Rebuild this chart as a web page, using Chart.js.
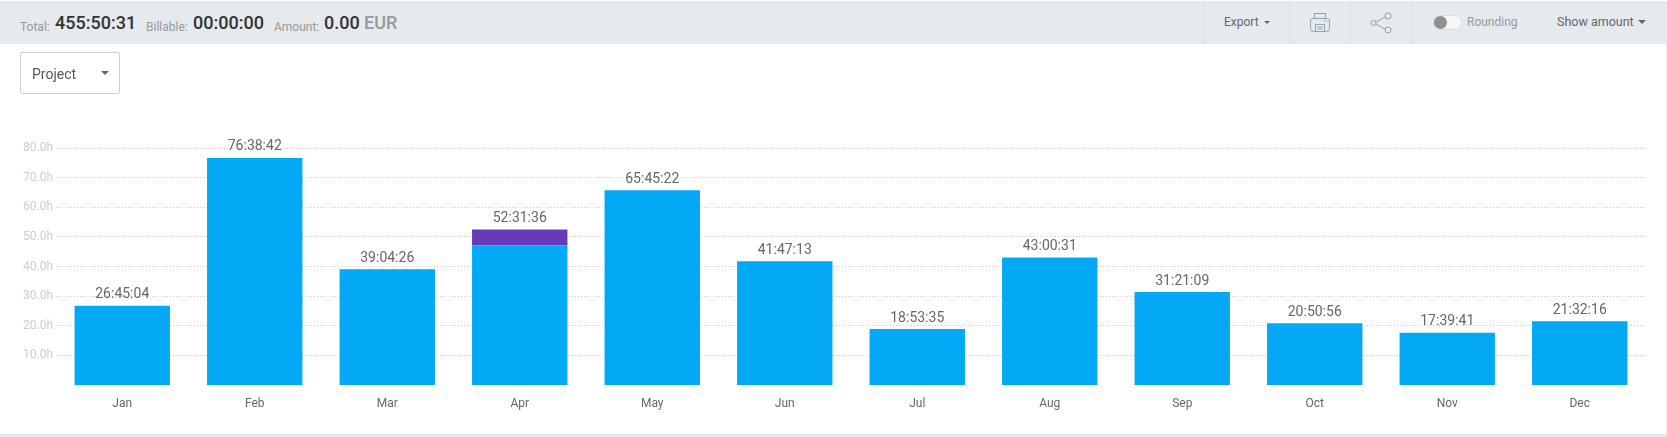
<!DOCTYPE html>
<html>
<head>
<meta charset="utf-8">
<script src="https://cdn.jsdelivr.net/npm/chart.js@4"></script>
<style>
    html, body { margin: 0; padding: 0; background: #fff; overflow: hidden; }
    body { width: 1667px; height: 437px; position: relative; font-family: Roboto, sans-serif; }
    .bar { position: absolute; left: 0; top: 1px; width: 1667px; height: 43px; background: #e4eaee; }
    .t { position: absolute; white-space: nowrap; line-height: 1; }
    .lbl { font-size: 12px; color: #999; top: 21px; }
    .num { font-size: 18px; font-weight: 500; color: #333; top: 14px; }
    .sep { position: absolute; top: 2px; height: 41px; border-left: 1px dotted #c6d2d9; }
    .caret { position: absolute; width: 0; height: 0; border-left: 3px solid transparent; border-right: 3px solid transparent; border-top: 3px solid #666; }
    .select { position: absolute; left: 20px; top: 52px; width: 98px; height: 40px; border: 1px solid #c6d2d9; border-radius: 2px; box-sizing: content-box; }
    .switch { position: absolute; left: 1433px; top: 15px; width: 27px; height: 13px; border: 1px solid #d5dde2; border-radius: 8px; background: #f5f7f8; }
    .knob { position: absolute; left: 1434px; top: 16px; width: 13px; height: 13px; border-radius: 50%; background: #8f8f8f; }
    .bottom { position: absolute; left: 0; top: 434px; width: 1667px; height: 3px; background: #e4eaee; }
    .edge { position: absolute; left: 1666px; top: 44px; width: 1px; height: 390px; background: #e4eaee; }
    #wrap { position: absolute; left: 0; top: 0; width: 1667px; height: 437px; }
</style>
</head>
<body>
<div id="wrap"><canvas id="chart" width="1667" height="437"></canvas></div>

<div class="bar"></div>
<span class="t lbl" style="left:20px">Total:</span>
<span class="t num" style="left:55px">455:50:31</span>
<span class="t lbl" style="left:146px">Billable:</span>
<span class="t num" style="left:193px">00:00:00</span>
<span class="t lbl" style="left:274px">Amount:</span>
<span class="t num" style="left:324px">0.00</span>
<span class="t num" style="left:364px;color:#999">EUR</span>

<div class="sep" style="left:1203px"></div>
<div class="sep" style="left:1289px"></div>
<div class="sep" style="left:1350px"></div>
<div class="sep" style="left:1411px"></div>
<span class="t" style="left:1224px;top:16px;font-size:12px;color:#666">Export</span>
<div class="caret" style="left:1264px;top:21px"></div>

<svg style="position:absolute;left:1309px;top:12px" width="22" height="22" viewBox="0 0 22 22" fill="none" stroke="#90a4ae" stroke-width="1">
    <rect x="1.5" y="6.5" width="19" height="13" rx="3"/>
    <rect x="5.5" y="1.5" width="11" height="5"/>
    <rect x="6.5" y="12.5" width="9" height="7" fill="#e4eaee"/>
    <path d="M8.5 15h5M8.5 17h5M15 9h1M17 9h1"/>
</svg>
<svg style="position:absolute;left:1370px;top:12px" width="22" height="22" viewBox="0 0 22 22" fill="none" stroke="#90a4ae" stroke-width="1">
    <circle cx="3.5" cy="11" r="2.5"/>
    <circle cx="18" cy="4" r="3"/>
    <circle cx="18" cy="18" r="3"/>
    <path d="M6 10l9-5M6 12l9 5"/>
</svg>

<div class="switch"></div>
<div class="knob"></div>
<span class="t" style="left:1467px;top:16px;font-size:12px;color:#999">Rounding</span>
<span class="t" style="left:1557px;top:16px;font-size:12.5px;color:#666">Show amount</span>
<div class="caret" style="left:1638px;top:20px;border-left-width:4px;border-right-width:4px;border-top-width:4px"></div>

<div class="select"></div>
<span class="t" style="left:32px;top:67px;font-size:14px;color:#555">Project</span>
<div class="caret" style="left:101px;top:71px;border-left-width:4px;border-right-width:4px;border-top-width:4px"></div>

<div class="edge"></div>
<div class="bottom"></div>

<script>
// Values in decimal hours
const months = ['Jan', 'Feb', 'Mar', 'Apr', 'May', 'Jun', 'Jul', 'Aug', 'Sep', 'Oct', 'Nov', 'Dec'];
const blueHours = [26.751, 76.645, 39.074, 47.2, 65.756, 41.787, 18.893, 43.009, 31.353, 20.849, 17.661, 21.538];
const purpleHours = [0, 0, 0, 5.327, 0, 0, 0, 0, 0, 0, 0, 0];
const totalLabels = ['26:45:04', '76:38:42', '39:04:26', '52:31:36', '65:45:22', '41:47:13', '18:53:35', '43:00:31', '31:21:09', '20:50:56', '17:39:41', '21:32:16'];
const yTicks = [10, 20, 30, 40, 50, 60, 70, 80];

// Total above each stack
const totalsPlugin = {
    id: 'totals',
    afterDatasetsDraw(chart) {
        const ctx = chart.ctx;
        const y = chart.scales.y;
        ctx.save();
        ctx.font = '14px Roboto';
        ctx.fillStyle = '#666';
        ctx.textAlign = 'center';
        ctx.textBaseline = 'bottom';
        months.forEach((m, i) => {
            const x = chart.getDatasetMeta(0).data[i].x;
            ctx.fillText(totalLabels[i], x, y.getPixelForValue(blueHours[i] + purpleHours[i]) - 4);
        });
        ctx.restore();
    }
};

new Chart(document.getElementById('chart'), {
    type: 'bar',
    data: {
        labels: months,
        datasets: [
            { data: blueHours, backgroundColor: '#03a9f4', borderWidth: 0 },
            { data: purpleHours, backgroundColor: '#673ab7', borderWidth: 0 }
        ]
    },
    options: {
        responsive: false,
        animation: false,
        layout: { padding: { top: 148, left: 0, right: 21, bottom: 0 } },
        datasets: { bar: { categoryPercentage: 0.72, barPercentage: 1 } },
        plugins: { legend: { display: false }, tooltip: { enabled: false } },
        scales: {
            x: {
                stacked: true,
                grid: { display: false },
                border: { display: false },
                afterFit: axis => { axis.height = 52; },
                ticks: { color: '#666', font: { family: 'Roboto', size: 12 }, padding: 4, maxRotation: 0 }
            },
            y: {
                stacked: true,
                min: 0,
                max: 80,
                afterBuildTicks: axis => { axis.ticks = yTicks.map(v => ({ value: v })); },
                afterFit: axis => { axis.width = 56; },
                grid: { color: '#c8c8c8', drawTicks: false, tickLength: 0 },
                border: { display: false, dash: [1, 2] },
                ticks: { color: '#ccc', font: { family: 'Roboto', size: 12 }, padding: 3, callback: v => v.toFixed(1) + 'h' }
            }
        }
    },
    plugins: [totalsPlugin]
});
</script>
</body>
</html>
